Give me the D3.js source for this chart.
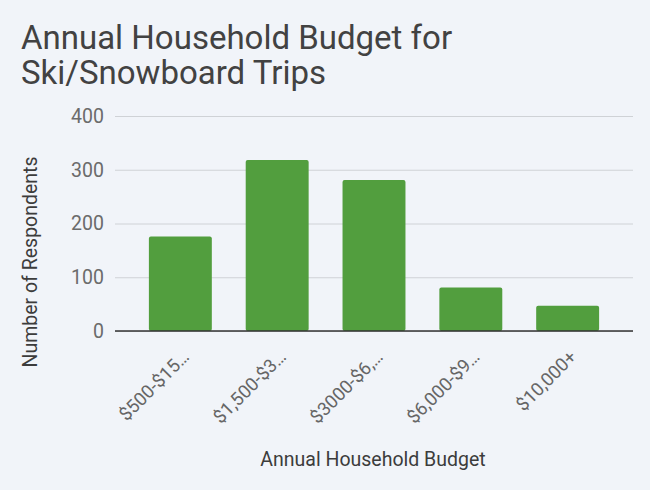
<!DOCTYPE html>
<html>
<head>
<meta charset="utf-8">
<script src="https://cdn.jsdelivr.net/npm/d3@7"></script>
<style>
  body { margin: 0; background: #f1f4f9; }
  svg { display: block; font-family: Roboto, sans-serif; }
  .y-axis .tick line { stroke: #cfd2d6; }
  .y-axis .tick text { fill: #6b6b6b; font-size: 19.5px; }
</style>
</head>
<body>
<div id="chart"></div>
<script>
const categories = ['$500-$15…', '$1,500-$3…', '$3000-$6,…', '$6,000-$9…', '$10,000+']
const respondents = [176, 318, 281, 81, 47]
const yTicks = [0, 100, 200, 300, 400]

const margin = { top: 116, right: 17, bottom: 159, left: 115 }
const width = 650 - margin.left - margin.right
const height = 490 - margin.top - margin.bottom

const root = d3
  .select('#chart')
  .append('svg')
  .attr('width', 650)
  .attr('height', 490)

root.append('rect').attr('width', 650).attr('height', 490).attr('fill', '#f1f4f9')

root
  .append('text')
  .attr('x', 21)
  .attr('y', 49)
  .attr('font-size', 33)
  .attr('fill', '#424242')
  .selectAll('tspan')
  .data(['Annual Household Budget for', 'Ski/Snowboard Trips'])
  .enter()
  .append('tspan')
  .attr('x', 21)
  .attr('dy', (d, i) => (i === 0 ? 0 : 34.5))
  .text(d => d)

const svg = root
  .append('g')
  .attr('transform', 'translate(' + margin.left + ',' + margin.top + ')')

const xPositionScale = d3
  .scaleBand()
  .domain(categories)
  .range([0, width])
  .paddingInner(0.35)
  .paddingOuter(0.35)

const yPositionScale = d3
  .scaleLinear()
  .domain([0, 400])
  .range([height, 0])

const yAxis = d3
  .axisLeft(yPositionScale)
  .tickValues(yTicks)
  .tickSize(-width)
  .tickPadding(11)

svg
  .append('g')
  .attr('class', 'axis y-axis')
  .call(yAxis)

d3.select('.y-axis .domain').remove()
svg.selectAll('.y-axis .tick text').attr('font-family', 'Roboto, sans-serif')

svg
  .selectAll('.bar')
  .data(respondents)
  .enter()
  .append('rect')
  .attr('class', 'bar')
  .attr('x', (d, i) => xPositionScale(categories[i]))
  .attr('y', d => yPositionScale(d))
  .attr('width', xPositionScale.bandwidth())
  .attr('height', d => height - yPositionScale(d))
  .attr('rx', 2)
  .attr('fill', '#529e3e')

// baseline over the bars
svg
  .append('line')
  .attr('x1', 0)
  .attr('x2', width)
  .attr('y1', yPositionScale(0))
  .attr('y2', yPositionScale(0))
  .attr('stroke', '#333')
  .attr('stroke-width', 1.5)

const xAxis = d3.axisBottom(xPositionScale).tickSize(0).tickPadding(0)

svg
  .append('g')
  .attr('class', 'axis x-axis')
  .attr('transform', 'translate(0,' + height + ')')
  .call(xAxis)
  .call(g => g.select('.domain').remove())
  .selectAll('text')
  .attr('font-family', 'Roboto, sans-serif')
  .attr('font-size', 18.5)
  .attr('fill', '#666')
  .attr('text-anchor', 'end')
  .attr('dy', 0)
  .attr('transform', 'translate(10,27) rotate(-45)')

root
  .append('text')
  .attr('x', 373)
  .attr('y', 466)
  .attr('text-anchor', 'middle')
  .attr('font-size', 19.5)
  .attr('fill', '#3c3c3c')
  .text('Annual Household Budget')

root
  .append('text')
  .attr('transform', 'translate(37,' + 262 + ') rotate(-90)')
  .attr('text-anchor', 'middle')
  .attr('font-size', 19.5)
  .attr('fill', '#3c3c3c')
  .text('Number of Respondents')
</script>
</body>
</html>
